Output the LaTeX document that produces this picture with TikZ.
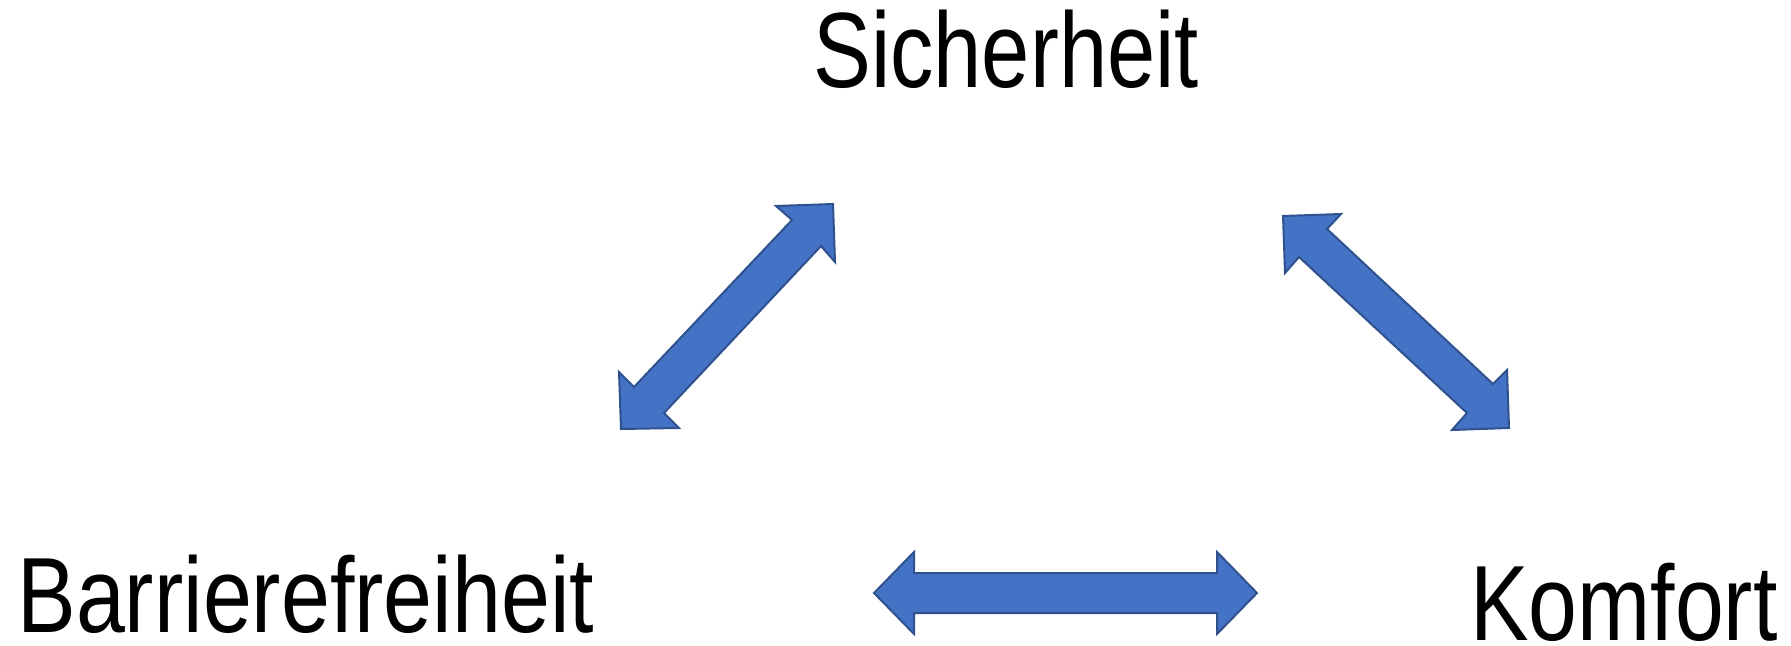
\documentclass[tikz,border=0pt]{standalone}
\usepackage{fontspec}
\setmainfont{Liberation Sans}
\definecolor{arrfill}{HTML}{4472C4}
\definecolor{arrline}{HTML}{2F528F}
\tikzset{
  blockarrow/.style={fill=arrfill, draw=arrline, line width=1pt, line join=miter},
  lbl/.style={inner sep=0pt, anchor=base west, font=\fontsize{53.5}{60}\selectfont}
}
\begin{document}
\begin{tikzpicture}[x=0.5pt, y=-0.5pt]
\useasboundingbox (0,0) rectangle (1791,646);
% labels
\node[lbl] (sich) at (813,88) {\scalebox{0.81}[1]{Sicherheit}};
\node[lbl] (barr) at (17,632) {\scalebox{0.822}[1]{Barrierefreiheit}};
\node[lbl] (komf) at (1470,640) {\scalebox{0.82}[1]{Komfort}};
% arrow Sicherheit - Barrierefreiheit
\draw[blockarrow] (833,204) -- (835,262) -- (821,246) -- (664,413) -- (679,428)
  -- (621,429) -- (619,372) -- (634,387) -- (792,220) -- (776,206) -- cycle;
% arrow Sicherheit - Komfort
\draw[blockarrow] (1283,216) -- (1341,214) -- (1327,229) -- (1493,384) -- (1507,370)
  -- (1509,428) -- (1452,430) -- (1467,413) -- (1299,257) -- (1285,273) -- cycle;
% arrow Barrierefreiheit - Komfort
\draw[blockarrow] (874,593) -- (914,552) -- (914,573) -- (1217,573) -- (1217,552)
  -- (1257,593) -- (1217,634) -- (1217,613) -- (914,613) -- (914,634) -- cycle;
\end{tikzpicture}
\end{document}
